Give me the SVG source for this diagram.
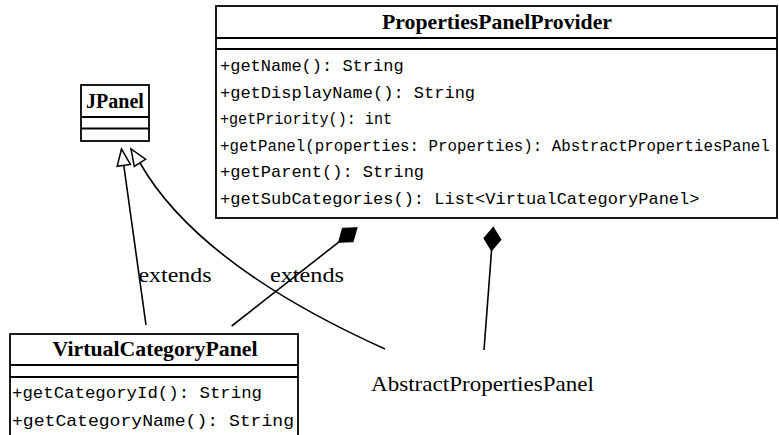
<svg xmlns="http://www.w3.org/2000/svg" width="779" height="435" viewBox="0 0 779 435">
<defs>
<style>
.box{fill:#fff;stroke:#000;stroke-width:1.8}
.sep{stroke:#000;stroke-width:1.8}
.title{font-family:"Liberation Serif","Times New Roman",serif;font-weight:bold;font-size:21px;fill:#000;text-anchor:middle}
.op{font-family:"Liberation Mono","Courier New",monospace;font-size:17px;fill:#000}
.lbl{font-family:"Liberation Serif","Times New Roman",serif;font-size:22px;fill:#000}
.edge{fill:none;stroke:#000;stroke-width:1.6}
</style>
<marker id="tri" viewBox="-19 -9 21 18" refX="0" refY="0" markerWidth="21" markerHeight="18" markerUnits="userSpaceOnUse" orient="auto">
<path d="M0,0 L-16.5,-6.7 L-16.5,6.7 Z" fill="#fff" stroke="#000" stroke-width="1.5"/>
</marker>
<marker id="dia" viewBox="-25 -10 27 20" refX="0" refY="0" markerWidth="27" markerHeight="20" markerUnits="userSpaceOnUse" orient="auto">
<path d="M0,0 L-11.7,-8.5 L-23.4,0 L-11.7,8.5 Z" fill="#000" stroke="#000" stroke-width="1"/>
</marker>
</defs>
<rect width="779" height="435" fill="#fff"/>

<g id="connectors">
<path class="edge" d="M146,325 L121.5,149" marker-end="url(#tri)"/>
<path class="edge" d="M385,349 Q198.4,265 140,163 L131,149" marker-end="url(#tri)"/>
<path class="edge" d="M231.7,326 L357,227.8" marker-end="url(#dia)"/>
<path class="edge" d="M484,350 L493.3,227.3" marker-end="url(#dia)"/>
<text class="lbl" x="138.5" y="282" textLength="73" lengthAdjust="spacingAndGlyphs">extends</text>
<text class="lbl" x="270" y="282" textLength="74" lengthAdjust="spacingAndGlyphs">extends</text>
</g>

<g id="PropertiesPanelProvider">
<rect class="box" x="216" y="6" width="561" height="212"/>
<line class="sep" x1="216" y1="38" x2="777" y2="38"/>
<line class="sep" x1="216" y1="49" x2="777" y2="49"/>
<text class="title" x="497" y="29" textLength="230" lengthAdjust="spacingAndGlyphs">PropertiesPanelProvider</text>
<text class="op" x="220" y="71">+getName(): String</text>
<text class="op" x="220" y="97.5">+getDisplayName(): String</text>
<text class="op" x="220" y="124" textLength="172" lengthAdjust="spacingAndGlyphs">+getPriority(): int</text>
<text class="op" x="220" y="150.5" style="font-size:15.8px">+getPanel(properties: Properties): AbstractPropertiesPanel</text>
<text class="op" x="220" y="177">+getParent(): String</text>
<text class="op" x="220" y="203.5">+getSubCategories(): List&lt;VirtualCategoryPanel&gt;</text>
</g>

<g id="JPanel">
<rect class="box" x="81" y="85" width="68" height="56"/>
<line class="sep" x1="81" y1="117" x2="149" y2="117"/>
<line class="sep" x1="81" y1="128.5" x2="149" y2="128.5"/>
<text class="title" x="115" y="107.5" style="font-size:20px">JPanel</text>
</g>

<g id="VirtualCategoryPanel">
<rect class="box" x="10" y="334" width="288" height="115"/>
<line class="sep" x1="10" y1="365" x2="298" y2="365"/>
<line class="sep" x1="10" y1="377" x2="298" y2="377"/>
<text class="title" x="155" y="356" textLength="205" lengthAdjust="spacingAndGlyphs">VirtualCategoryPanel</text>
<text class="op" x="12" y="398" textLength="250" lengthAdjust="spacingAndGlyphs">+getCategoryId(): String</text>
<text class="op" x="12" y="426" textLength="282" lengthAdjust="spacingAndGlyphs">+getCategoryName(): String</text>
</g>

<g id="AbstractPropertiesPanel">
<text class="lbl" x="371" y="391" textLength="223" lengthAdjust="spacingAndGlyphs">AbstractPropertiesPanel</text>
</g>
</svg>
